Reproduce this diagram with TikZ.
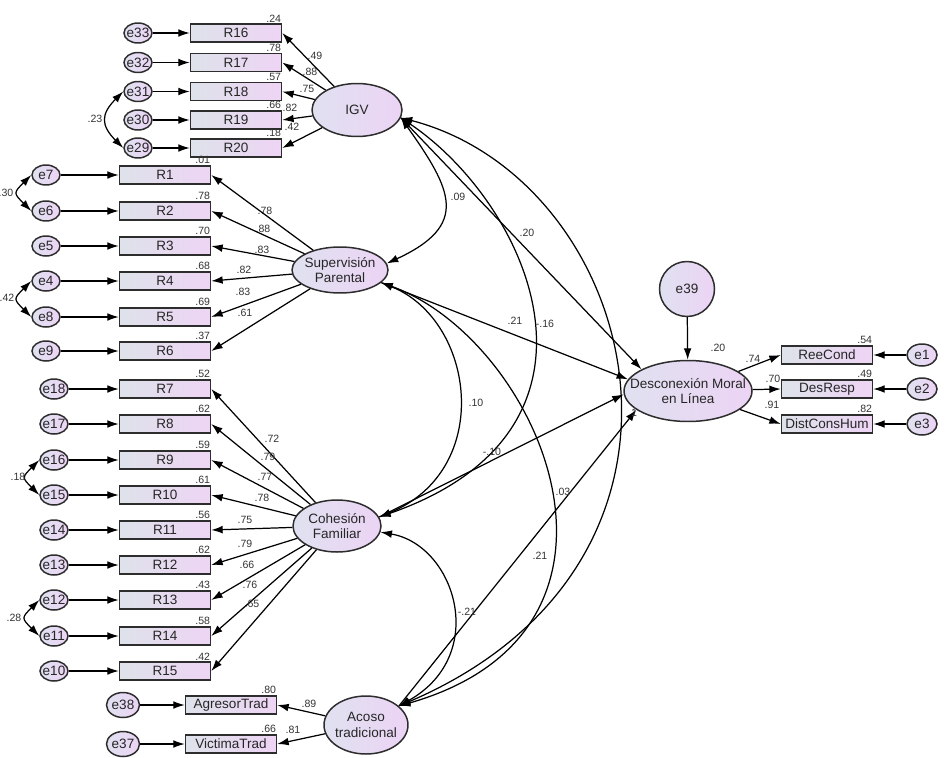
\documentclass[tikz,border=0pt]{standalone}
\usepackage{fontspec}
\setmainfont{Liberation Sans}
\usetikzlibrary{arrows.meta,shapes.geometric}
\definecolor{boxL}{RGB}{222,226,234}
\definecolor{boxR}{RGB}{238,212,245}
\definecolor{ovL}{RGB}{224,225,240}
\definecolor{ovR}{RGB}{236,212,245}
\definecolor{edge}{RGB}{45,45,45}

\begin{document}
\begin{tikzpicture}[x=0.02cm,y=-0.02cm,
	txt/.style={font=\fontsize{7.7}{9}\selectfont,inner sep=0pt,align=center,text=black!85},
	obs/.style={draw=edge,line width=0.85pt,left color=boxL,right color=boxR,minimum width=1.82cm,minimum height=0.36cm,inner sep=0pt,font=\fontsize{7.7}{9}\selectfont,text=black!85},
	lat/.style={ellipse,draw=edge,line width=0.85pt,left color=ovL,right color=ovR,inner sep=0pt,label={[txt]center:#1}},
	err/.style={ellipse,draw=edge,line width=0.85pt,left color=ovL,right color=ovR,inner sep=0pt,minimum width=0.56cm,minimum height=0.4cm,label={[txt]center:#1}},
	lab/.style={font=\fontsize{6}{7}\selectfont,inner sep=0.5pt,text=black!80},
	reg/.style={-{Latex[length=6.5pt,width=4.4pt]},line width=0.7pt},
	cov/.style={{Latex[length=6.5pt,width=4.4pt]}-{Latex[length=6.5pt,width=4.4pt]},line width=0.7pt}]
	\useasboundingbox (0,0) rectangle (945,757);

	\node[lat={IGV},minimum width=1.8cm,minimum height=1.06cm] (igv) at (357,110) {};
	\node[lat={Supervisión\\Parental},minimum width=1.92cm,minimum height=0.92cm] (sup) at (340,270) {};
	\node[lat={Cohesión\\Familiar},minimum width=1.76cm,minimum height=1.04cm] (coh) at (337,526) {};
	\node[lat={Acoso\\tradicional},minimum width=1.68cm,minimum height=1.16cm] (aco) at (366,725) {};
	\node[lat={Desconexión Moral\\en Línea},minimum width=2.56cm,minimum height=1.22cm] (dm) at (688,391) {};
	\node[err=e39,minimum size=1.1cm] (e39) at (687,289) {};
	\node[lab] (rdm) at (718,348) {.20};

	\foreach \e/\r/\y/\rsq/\ld/\lx/\ly in {33/16/33/.24/.49/315/56, 32/17/62.5/.78/.88/310/72, 31/18/91.5/.57/.75/307/89, 30/19/120/.66/.82/290/108, 29/20/148/.18/.42/292/127}{
		\node[obs] (r\r) at (236,\y) {R\r};
		\node[err=e\e] (e\e) at (138,\y) {};
		\node[lab,anchor=south east] (q\r) at (r\r.north east) {\rsq};
		\node[lab] (l\r) at (\lx,\ly) {\ld};
		\draw[reg] (e\e) -- (r\r);
		\draw[reg] (igv) -- (r\r.east);
	}
	\foreach \e/\r/\y/\rsq/\ld/\lx/\ly in {7/1/175/.01/.78/265/211, 6/2/211/.78/.88/263/229, 5/3/246/.70/.83/262/250, 4/4/281/.68/.82/244/270, 8/5/317/.69/.83/243/292, 9/6/351/.37/.61/245/313}{
		\node[obs] (r\r) at (165,\y) {R\r};
		\node[err=e\e] (e\e) at (46,\y) {};
		\node[lab,anchor=south east] (q\r) at (r\r.north east) {\rsq};
		\node[lab] (l\r) at (\lx,\ly) {\ld};
		\draw[reg] (e\e) -- (r\r);
		\draw[reg] (sup) -- (r\r.east);
	}
	\foreach \e/\r/\y/\rsq/\ld/\lx/\ly in {18/7/389/.52/.72/272/439, 17/8/424/.62/.79/268/457, 16/9/460/.59/.77/265/477, 15/10/495/.61/.78/262/498, 14/11/530/.56/.75/245/520, 13/12/565/.62/.79/245/544, 12/13/600/.43/.66/247/565, 11/14/636/.58/.76/250/585, 10/15/671/.42/.65/252/604}{
		\node[obs] (r\r) at (165,\y) {R\r};
		\node[err=e\e] (e\e) at (54,\y) {};
		\node[lab,anchor=south east] (q\r) at (r\r.north east) {\rsq};
		\node[lab] (l\r) at (\lx,\ly) {\ld};
		\draw[reg] (e\e) -- (r\r);
		\draw[reg] (coh) -- (r\r.east);
	}
	\foreach \e/\n/\t/\y/\rsq/\ld/\lx/\ly in {38/agr/AgresorTrad/705/.80/.89/309/704, 37/vic/VictimaTrad/744/.66/.81/293/730}{
		\node[obs] (\n) at (231,\y) {\t};
		\node[err=e\e,minimum width=0.66cm,minimum height=0.5cm] (e\e) at (123,\y) {};
		\node[lab,anchor=south east] (q\n) at (\n.north east) {\rsq};
		\node[lab] (l\n) at (\lx,\ly) {\ld};
		\draw[reg] (e\e) -- (\n);
		\draw[reg] (aco) -- (\n.east);
	}
	\foreach \e/\n/\t/\y/\rsq/\ld/\lx/\ly in {1/ree/ReeCond/355/.54/.74/753/359, 2/des/DesResp/389/.49/.70/773/379, 3/dis/DistConsHum/424/.82/.91/772/405}{
		\node[obs] (\n) at (827,\y) {\t};
		\node[err=e\e,minimum width=0.6cm,minimum height=0.44cm] (e\e) at (922,\y) {};
		\node[lab,anchor=south east] (q\n) at (\n.north east) {\rsq};
		\node[lab] (l\n) at (\lx,\ly) {\ld};
		\draw[reg] (e\e) -- (\n);
		\draw[reg] (dm) -- (\n.west);
	}

	% error covariances
	\draw[cov] (e31.west) to[out=225,in=135,looseness=1.45] (e29.west);
	\draw[cov] (e7.west) to[out=225,in=135,looseness=1.8] (e6.west);
	\draw[cov] (e4.west) to[out=225,in=135,looseness=1.8] (e8.west);
	\draw[cov] (e16.west) to[out=225,in=135,looseness=1.8] (e15.west);
	\draw[cov] (e12.west) to[out=225,in=135,looseness=1.8] (e11.west);
	\node[lab] (c1) at (95,119) {.23};
	\node[lab] (c2) at (6,193) {.30};
	\node[lab] (c3) at (7,298) {.42};
	\node[lab] (c4) at (18,477) {.18};
	\node[lab] (c5) at (14,618) {.28};

	% structural part
	\draw[reg] (e39) -- (dm);
	\draw[reg] (igv.-10) -- (dm.155);
	\draw[reg] (sup.-17) -- (dm.169);
	\draw[reg] (coh.12) -- (dm.183);
	\draw[reg] (aco.30) -- (dm.200);
	\draw[cov] (igv.-10) .. controls (452,190) and (470,225) .. (sup.8);
	\draw[cov] (igv.-10) .. controls (530,205) and (630,430) .. (coh.12);
	\draw[cov] (igv.-10) .. controls (640,180) and (740,560) .. (aco.30);
	\draw[cov] (sup.-17) .. controls (475,320) and (495,470) .. (coh.12);
	\draw[cov] (sup.-17) .. controls (540,340) and (665,630) .. (aco.30);
	\draw[cov] (coh.-8) .. controls (455,545) and (490,655) .. (aco.30);
	\node[lab] (s1) at (458,197) {.09};
	\node[lab] (s2) at (527,233) {.20};
	\node[lab] (s3) at (545,324) {-.16};
	\node[lab] (s4) at (515,321) {.21};
	\node[lab] (s5) at (476,403) {.10};
	\node[lab] (s6) at (492,452) {-.10};
	\node[lab] (s7) at (563,492) {.03};
	\node[lab] (s8) at (540,556) {.21};
	\node[lab] (s9) at (467,612) {-.21};
	\node[lab] (s10) at (634,413) {1};
\end{tikzpicture}
\end{document}
